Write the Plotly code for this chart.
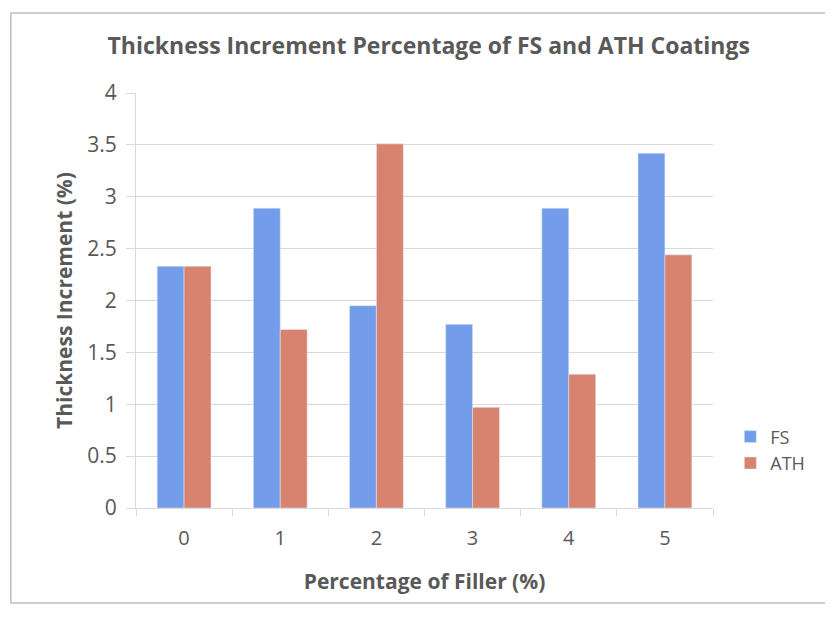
import plotly.graph_objects as go

filler = ["0", "1", "2", "3", "4", "5"]
fs = [2.33, 2.89, 1.95, 1.77, 2.89, 3.42]
ath = [2.33, 1.72, 3.51, 0.97, 1.29, 2.44]

grey = "#595959"
font = "Open Sans, sans-serif"

fig = go.Figure()
fig.add_trace(go.Bar(x=filler, y=fs, name="FS", marker_color="#739dea"))
fig.add_trace(go.Bar(x=filler, y=ath, name="ATH", marker_color="#d8836f"))

# page body adds an 8px offset, margins account for it
fig.update_layout(
    width=833, height=625,
    paper_bgcolor="white", plot_bgcolor="white",
    margin=dict(l=128, r=128, t=85, b=125),
    barmode="group", bargap=0.44, bargroupgap=0,
    font=dict(family=font, color=grey, size=20),
    title=dict(text="<b>Thickness Increment Percentage of FS and ATH Coatings</b>",
               x=0.505, xanchor="center", y=0.94, yanchor="middle",
               font=dict(size=23, color=grey)),
    legend=dict(x=1.03, xanchor="left", y=0.14, yanchor="middle",
                font=dict(size=18, color=grey), tracegroupgap=10),
    showlegend=True,
)
fig.update_xaxes(
    type="category", showline=True, linecolor="#d9d9d9",
    ticks="outside", tickson="boundaries", ticklen=7, tickcolor="#d9d9d9",
    tickfont=dict(size=20, color=grey), ticklabelstandoff=12,
    title=dict(text="<b>Percentage of Filler (%)</b>", font=dict(size=21, color=grey), standoff=24),
)
fig.update_yaxes(
    range=[0, 4], dtick=0.5, showgrid=True, gridcolor="#d9d9d9",
    showline=True, linecolor="#d9d9d9", ticks="outside", ticklen=9, tickcolor="#d9d9d9",
    tickfont=dict(size=21, color=grey), zeroline=False, ticklabelstandoff=5,
    title=dict(text="<b>Thickness Increment (%)</b>", font=dict(size=21, color=grey), standoff=8),
)
fig.add_shape(type="rect", xref="paper", yref="paper",
              x0=-0.217, x1=1.25, y0=-0.229, y1=1.193,
              line=dict(color="#bfbfbf", width=1.5))

fig.write_html("out.html")
